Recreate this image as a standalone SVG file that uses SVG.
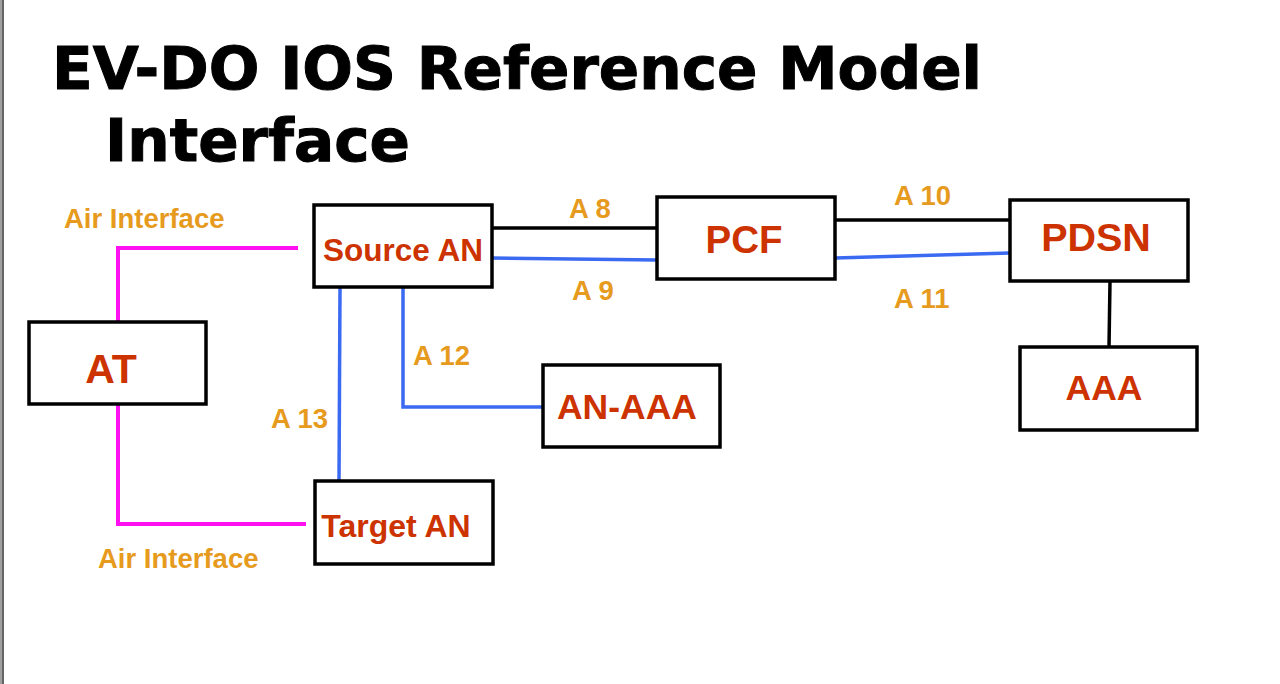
<svg xmlns="http://www.w3.org/2000/svg" width="1280" height="684" viewBox="0 0 1280 684">
<style>
.box{fill:#fff;stroke:#000;stroke-width:3.5}
.nt{font-family:"Liberation Sans",Arial,sans-serif;font-weight:bold;fill:#CC3300;text-anchor:middle}
.lb{font-family:"Liberation Sans",Arial,sans-serif;font-weight:bold;font-size:27.5px;fill:#E69B1E}
.title{font-family:"DejaVu Sans",Verdana,sans-serif;font-weight:bold;font-size:59px;fill:#000;stroke:#000;stroke-width:1}
.blk{stroke:#000;stroke-width:3.5;fill:none}
.blu{stroke:#3B6AF2;stroke-width:3.5;fill:none}
.mag{stroke:#FF10F0;stroke-width:4;fill:none}
</style>
<rect x="0" y="0" width="1280" height="684" fill="#fff"/>
<rect x="0" y="0" width="2" height="684" fill="#a0a0a0"/>
<rect x="2" y="0" width="2" height="684" fill="#666"/>
<g id="title">
<text class="title" x="52" y="89" textLength="930" lengthAdjust="spacingAndGlyphs">EV-DO IOS Reference Model</text>
<text class="title" x="105" y="161" textLength="305" lengthAdjust="spacingAndGlyphs">Interface</text>
</g>
<g id="connectors">
<polyline class="mag" points="298,248 118,248 118,322"/>
<polyline class="mag" points="118,404 118,524 306,524"/>
<line class="blk" x1="492" y1="228" x2="657" y2="228"/>
<line class="blu" x1="492" y1="258" x2="657" y2="260"/>
<line class="blk" x1="835" y1="220" x2="1010" y2="220"/>
<line class="blu" x1="835" y1="258" x2="1010" y2="253"/>
<line class="blk" x1="1110" y1="281" x2="1109" y2="347"/>
<line class="blu" x1="340" y1="288" x2="339" y2="481"/>
<polyline class="blu" points="403,288 403,407 543,407"/>
<text class="lb" x="64" y="228">Air Interface</text>
<text class="lb" x="98" y="568">Air Interface</text>
<text class="lb" x="569" y="218">A 8</text>
<text class="lb" x="572" y="300">A 9</text>
<text class="lb" x="894" y="205">A 10</text>
<text class="lb" x="894" y="308">A 11</text>
<text class="lb" x="413" y="365">A 12</text>
<text class="lb" x="271" y="428">A 13</text>
</g>
<g id="at"><rect class="box" x="29" y="322" width="177" height="82"/><text class="nt" x="111" y="383" font-size="41">AT</text></g>
<g id="source-an"><rect class="box" x="314" y="205" width="178" height="82"/><text class="nt" x="403" y="261" font-size="31.5">Source AN</text></g>
<g id="pcf"><rect class="box" x="657" y="197" width="178" height="82"/><text class="nt" x="744" y="253" font-size="38.5">PCF</text></g>
<g id="pdsn"><rect class="box" x="1010" y="200" width="178" height="81"/><text class="nt" x="1096" y="251" font-size="39.5">PDSN</text></g>
<g id="aaa"><rect class="box" x="1020" y="347" width="177" height="83"/><text class="nt" x="1104" y="400" font-size="35.5">AAA</text></g>
<g id="an-aaa"><rect class="box" x="543" y="365" width="177" height="82"/><text class="nt" x="627" y="419" font-size="35.5">AN-AAA</text></g>
<g id="target-an"><rect class="box" x="315" y="481" width="178" height="83"/><text class="nt" x="396" y="537" font-size="32">Target AN</text></g>
</svg>
